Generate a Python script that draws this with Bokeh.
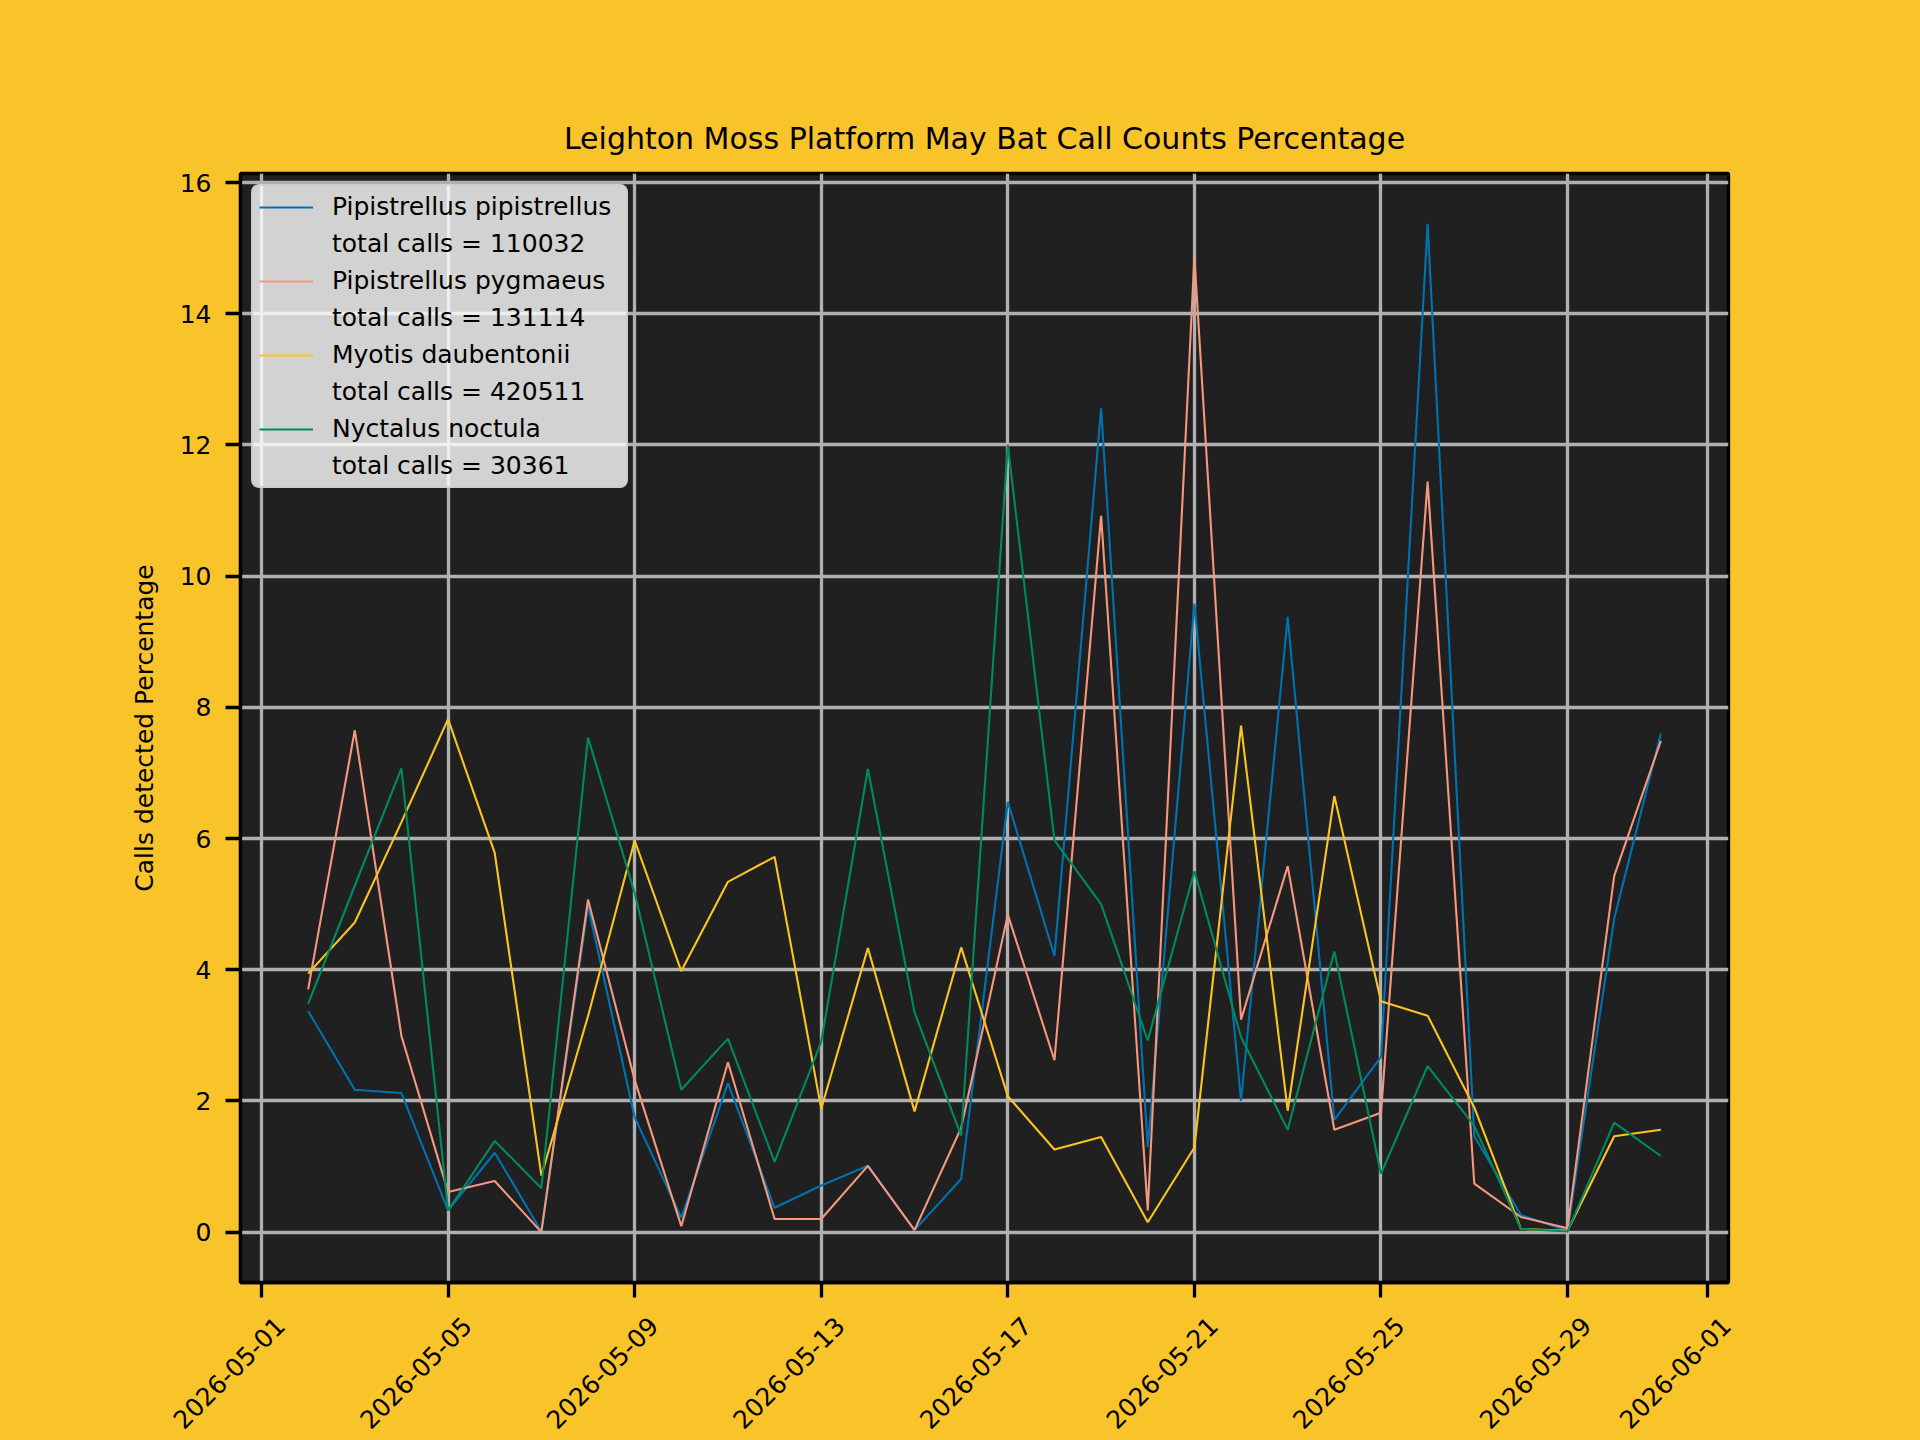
from datetime import datetime
from bokeh.plotting import figure
from bokeh.models import (Range1d, FixedTicker, DatetimeTickFormatter, Legend, LegendItem,
                          DatetimeAxis)
from bokeh.embed import file_html
from bokeh.resources import INLINE
from math import pi

# ---------------- data ----------------
dates = ["2026-05-02", "2026-05-03", "2026-05-04", "2026-05-05", "2026-05-06",
         "2026-05-07", "2026-05-08", "2026-05-09", "2026-05-10", "2026-05-11",
         "2026-05-12", "2026-05-13", "2026-05-14", "2026-05-15", "2026-05-16",
         "2026-05-17", "2026-05-18", "2026-05-19", "2026-05-20", "2026-05-21",
         "2026-05-22", "2026-05-23", "2026-05-24", "2026-05-25", "2026-05-26",
         "2026-05-27", "2026-05-28", "2026-05-29", "2026-05-30", "2026-05-31"]

pip_pip = [3.37, 2.17, 2.12, 0.33, 1.21, 0.01, 4.97, 1.75, 0.22, 2.27,
           0.37, 0.71, 1.01, 0.03, 0.81, 6.56, 4.21, 12.56, 1.30, 9.58,
           2.00, 9.38, 1.71, 2.67, 15.37, 1.46, 0.26, 0.02, 4.78, 7.60]
pip_pyg = [3.70, 7.65, 2.99, 0.61, 0.78, 0.00, 5.07, 2.32, 0.09, 2.59,
           0.20, 0.20, 1.01, 0.03, 1.59, 4.84, 2.62, 10.92, 0.33, 14.87,
           3.24, 5.58, 1.56, 1.82, 11.44, 0.74, 0.23, 0.06, 5.43, 7.49]
myo_dau = [3.94, 4.72, 6.25, 7.82, 5.78, 0.86, 3.29, 5.97, 3.98, 5.34,
           5.72, 1.88, 4.33, 1.84, 4.34, 2.07, 1.26, 1.45, 0.15, 1.29,
           7.72, 1.85, 6.65, 3.52, 3.30, 1.90, 0.05, 0.02, 1.46, 1.56]
nyc_noc = [3.48, 5.28, 7.07, 0.33, 1.39, 0.67, 7.54, 5.17, 2.17, 2.95,
           1.07, 2.90, 7.06, 3.35, 1.47, 12.00, 5.97, 5.00, 2.92, 5.50,
           2.97, 1.56, 4.28, 0.89, 2.53, 1.62, 0.05, 0.01, 1.67, 1.16]

species = ["Pipistrellus pipistrellus", "Pipistrellus pygmaeus",
           "Myotis daubentonii", "Nyctalus noctula"]
total_calls = [110032, 131114, 420511, 30361]
xtick_labels = ["2026-05-01", "2026-05-05", "2026-05-09", "2026-05-13", "2026-05-17",
                "2026-05-21", "2026-05-25", "2026-05-29", "2026-06-01"]
ytick_values = [0, 2, 4, 6, 8, 10, 12, 14, 16]
title_text = "Leighton Moss Platform May Bat Call Counts Percentage"
ylabel_text = "Calls detected Percentage"

# ---------------- styles ----------------
series = [pip_pip, pip_pyg, myo_dau, nyc_noc]
colors = ["#0072B2", "#F5987E", "#FBC423", "#008B5C"]
FIG_BG = "#F8C42A"
AX_BG = "#202020"
FONT = "DejaVu Sans"
FS = "25px"
LW = 3.3
FRAME_W = 1488          # plot-area width in px
LABEL_SHIFT_PX = 19     # nudges the rotated date labels right, toward centred under their ticks

EPOCH = datetime(1970, 1, 1)


def parse(s):
    return datetime.strptime(s, "%Y-%m-%d")


def to_ms(s):
    return (parse(s) - EPOCH).total_seconds() * 1000.0


xs = [parse(d) for d in dates]
x_ms = [to_ms(d) for d in dates]
xspan = max(x_ms) - min(x_ms)
xmin, xmax = min(x_ms) - 0.05 * xspan, max(x_ms) + 0.05 * xspan
allv = [v for s in series for v in s]
yspan = max(allv) - min(allv)
ymin, ymax = min(allv) - 0.05 * yspan, max(allv) + 0.05 * yspan

W, H = 1920, 1440
p = figure(width=W, height=H, x_axis_type="datetime", output_backend="svg",
           toolbar_location=None, x_range=Range1d(xmin, xmax), y_range=Range1d(ymin, ymax),
           min_border_left=240, min_border_right=W - 240 - FRAME_W, min_border_top=173,
           min_border_bottom=158)

p.background_fill_color = AX_BG
p.border_fill_color = FIG_BG
p.outline_line_color = "black"
p.outline_line_width = LW

p.title.text = title_text
p.title.align = "center"
p.title.text_font = FONT
p.title.text_font_size = "30px"
p.title.text_font_style = "normal"
p.title.text_color = "black"
p.title.standoff = 35

for ax in (p.xaxis, p.yaxis):
    ax.axis_line_color = "black"
    ax.axis_line_width = LW
    ax.major_tick_line_color = "black"
    ax.major_tick_line_width = LW
    ax.major_tick_out = 15
    ax.major_tick_in = 0
    ax.minor_tick_out = 0
    ax.minor_tick_in = 0
    ax.major_label_text_font = FONT
    ax.major_label_text_font_size = FS
    ax.major_label_text_color = "black"
    ax.major_label_standoff = 14

tick_ms = [to_ms(t) for t in xtick_labels]
fmt = "%Y-%m-%d"


def date_fmt():
    return DatetimeTickFormatter(days=fmt, months=fmt, years=fmt, hours=fmt,
                                 hourmin=fmt, minutes=fmt, minsec=fmt,
                                 seconds=fmt, milliseconds=fmt, microseconds=fmt)


# main x axis: line + ticks (labels are carried by the label axis below)
p.xaxis.ticker = FixedTicker(ticks=tick_ms)
p.xaxis.formatter = date_fmt()
p.xaxis.major_label_overrides = {t: "" for t in tick_ms}
p.xaxis.major_label_standoff = 0

# label axis: same dates, range slightly offset so the rotated labels sit closer to centred
shift_ms = LABEL_SHIFT_PX * (xmax - xmin) / FRAME_W
p.extra_x_ranges = {"labels": Range1d(xmin - shift_ms, xmax - shift_ms)}
lab_ax = DatetimeAxis(x_range_name="labels", ticker=FixedTicker(ticks=tick_ms),
                      formatter=date_fmt(), major_label_orientation=pi / 4,
                      axis_line_alpha=0, major_tick_out=0, major_tick_in=0,
                      minor_tick_out=0, minor_tick_in=0, major_label_standoff=24,
                      major_label_text_font=FONT, major_label_text_font_size=FS,
                      major_label_text_color="black")
p.add_layout(lab_ax, "below")

p.yaxis.ticker = FixedTicker(ticks=ytick_values)
p.yaxis.axis_label = ylabel_text
p.yaxis.axis_label_text_font = FONT
p.yaxis.axis_label_text_font_size = FS
p.yaxis.axis_label_text_font_style = "normal"
p.yaxis.axis_label_text_color = "black"
p.yaxis.axis_label_standoff = 18

p.xgrid.grid_line_color = "#b0b0b0"
p.xgrid.grid_line_width = LW
p.ygrid.grid_line_color = "#b0b0b0"
p.ygrid.grid_line_width = LW

items = []
for name, total, vals, col in zip(species, total_calls, series, colors):
    r = p.line(xs, vals, line_color=col, line_width=2.1)
    dummy = p.line([], [], line_alpha=0)
    items.append(LegendItem(label=name, renderers=[r]))
    items.append(LegendItem(label=f"total calls = {total}", renderers=[dummy]))

legend = Legend(items=items, location="top_left", margin=11, padding=6,
                background_fill_color="white", background_fill_alpha=0.8,
                border_line_color="#cccccc", border_line_alpha=0.8, border_line_width=2,
                label_text_font=FONT, label_text_font_size=FS, label_text_color="black",
                glyph_width=54, glyph_height=20, label_height=20, label_standoff=19,
                label_width=288, spacing=8)
if "border_radius" in Legend.properties():
    legend.border_radius = 8
p.add_layout(legend)

html = file_html(p, INLINE)
html = html.replace("</head>", "<style>html, body { background: %s; }</style></head>" % FIG_BG, 1)
open("out.html", "w").write(html)
